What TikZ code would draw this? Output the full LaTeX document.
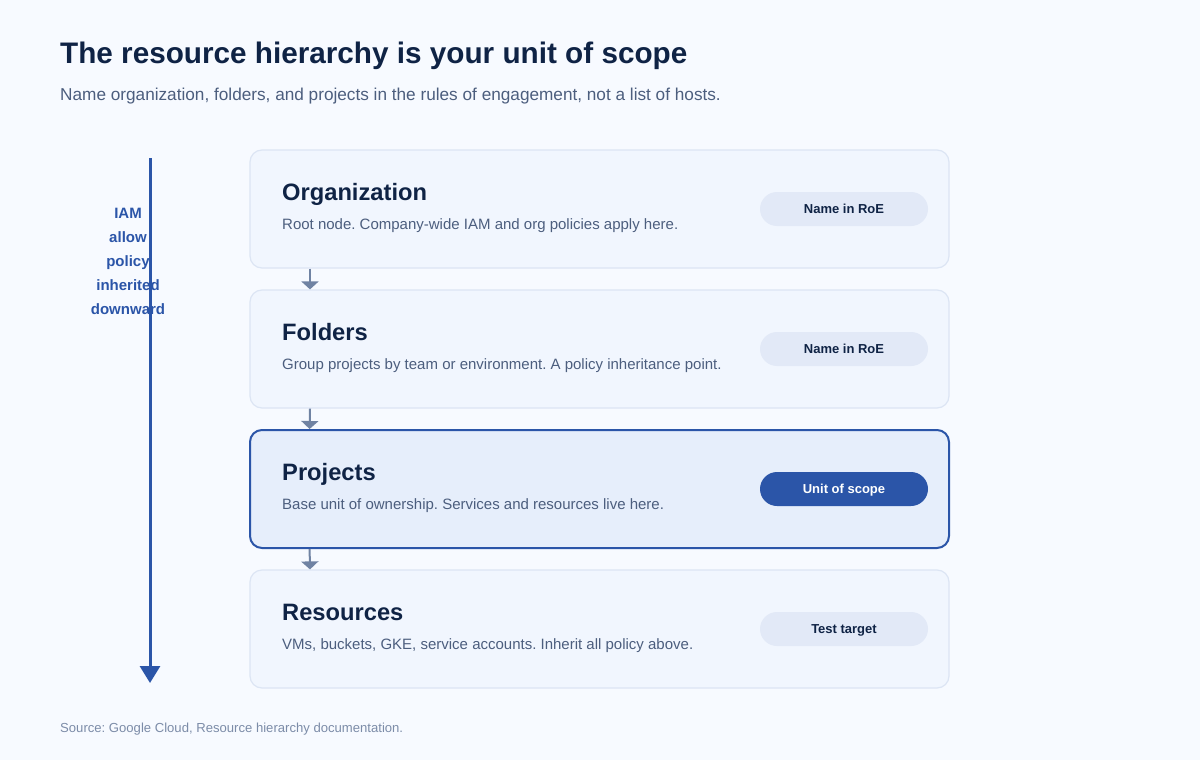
\documentclass[tikz,border=0pt]{standalone}
\usepackage{fontspec}
\setmainfont{Liberation Sans}
\usepackage{tikz}
\usetikzlibrary{arrows.meta,calc}
\frenchspacing

\definecolor{pagebg}{HTML}{F7FAFF}
\definecolor{ink}{HTML}{0F2345}
\definecolor{muted}{HTML}{4C5E7E}
\definecolor{faint}{HTML}{7C8CA8}
\definecolor{cardfill}{HTML}{F1F6FE}
\definecolor{cardline}{HTML}{DCE5F4}
\definecolor{hifill}{HTML}{E6EEFB}
\definecolor{accent}{HTML}{2B55A8}
\definecolor{pillfill}{HTML}{E2E9F7}
\definecolor{linkgray}{HTML}{7083A3}

\begin{document}
\begin{tikzpicture}[x=1pt,y=-1pt,
    card/.style={draw=cardline,fill=cardfill,line width=1.2pt,rounded corners=12pt,
        minimum width=699pt,minimum height=118pt,inner sep=0pt},
    hicard/.style={card,draw=accent,fill=hifill,line width=2pt},
    tiername/.style={anchor=base west,inner sep=0pt,text=ink,
        font=\bfseries\fontsize{23.7}{28}\selectfont},
    tierdesc/.style={anchor=base west,inner sep=0pt,text=muted,
        font=\fontsize{15}{18}\selectfont},
    pill/.style={fill=pillfill,text=ink,rounded corners=17pt,minimum width=168pt,
        minimum height=34pt,inner sep=0pt,text height=9.4pt,text depth=0pt,
        font=\bfseries\fontsize{13}{16}\selectfont},
    hipill/.style={pill,fill=accent,text=white},
    link/.style={draw=linkgray,line width=2pt,-{Triangle[width=17pt,length=8pt]}},
    sidelabel/.style={anchor=base,inner sep=0pt,text=accent,
        font=\bfseries\fontsize{15}{18}\selectfont}]
    \fill[pagebg] (0,0) rectangle (1200,760);
    \useasboundingbox (0,0) rectangle (1200,760);

    \node[anchor=base west,inner sep=0pt,text=ink,font=\bfseries\fontsize{29.7}{34}\selectfont]
        (title) at (60,64) {The resource hierarchy is your unit of scope};
    \node[anchor=base west,inner sep=0pt,text=muted,font=\fontsize{17.2}{20}\selectfont]
        (subtitle) at (60,100.5) {Name organization, folders, and projects in the rules of engagement, not a list of hosts.};

    % the four tiers
    \node[card] (org) at (599.5,209) {};
    \node[card] (fold) at (599.5,349) {};
    \node[hicard] (proj) at (599.5,489) {};
    \node[card] (res) at (599.5,629) {};

    \node[tiername] (orgname) at (282,200) {Organization};
    \node[tierdesc] (orgdesc) at (282,229.5) {Root node. Company-wide IAM and org policies apply here.};
    \node[pill] (orgpill) at (844,209) {Name in RoE};

    \node[tiername] (foldname) at (282,340) {Folders};
    \node[tierdesc] (folddesc) at (282,369.5) {Group projects by team or environment. A policy inheritance point.};
    \node[pill] (foldpill) at (844,349) {Name in RoE};

    \node[tiername] (projname) at (282,480) {Projects};
    \node[tierdesc] (projdesc) at (282,509.5) {Base unit of ownership. Services and resources live here.};
    \node[hipill] (projpill) at (844,489) {Unit of scope};

    \node[tiername] (resname) at (282,620) {Resources};
    \node[tierdesc] (resdesc) at (282,649.5) {VMs, buckets, GKE, service accounts. Inherit all policy above.};
    \node[pill] (respill) at (844,629) {Test target};

    % links between tiers
    \draw[link] ([xshift=60.6pt]org.south west) -- ([xshift=60.6pt]fold.north west);
    \draw[link] ([xshift=60.6pt]fold.south west) -- ([xshift=60.6pt]proj.north west);
    \draw[link] ([xshift=60.6pt]proj.south west) -- ([xshift=60.6pt]res.north west);

    % inheritance arrow on the left
    \foreach \w [count=\i] in {IAM,allow,policy,inherited,downward}
        \node[sidelabel] (side\i) at (128,194.5+24*\i) {\w};
    \coordinate (flowtop) at (150,158);
    \coordinate (flowend) at (150,683);
    \draw[accent,line width=3pt,-{Triangle[width=20pt,length=17pt]}] (flowtop) -- (flowend);

    \node[anchor=base west,inner sep=0pt,text=faint,font=\fontsize{13.1}{16}\selectfont]
        (source) at (60,732) {Source: Google Cloud, Resource hierarchy documentation.};
\end{tikzpicture}
\end{document}
